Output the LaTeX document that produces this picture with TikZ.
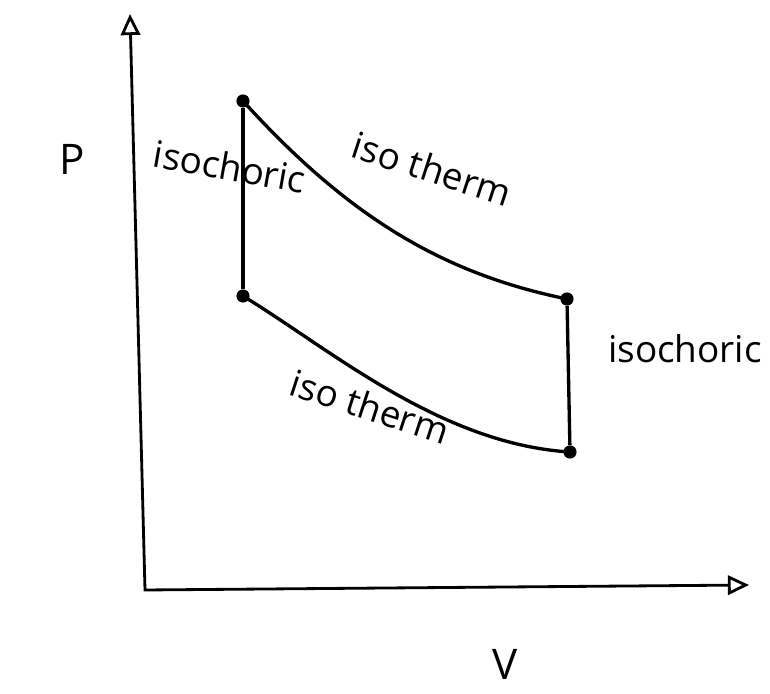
\documentclass[tikz,border=0pt]{standalone}
\usepackage{fontspec}
\setmainfont{Open Sans}
\usepackage{tikz}
\usetikzlibrary{arrows.meta}

\begin{document}
\begin{tikzpicture}[
  axis/.style={line width=1.6pt, {Triangle[open, length=12pt, width=11pt]}-{Triangle[open, length=12pt, width=11pt]}},
  path/.style={line width=1.9pt},
  pt/.style={circle, fill=black, inner sep=0pt, minimum size=7.5pt},
  lbl/.style={font=\fontsize{21}{23}\selectfont, inner sep=1pt}
]
\useasboundingbox (0,0) rectangle (15.4,13.88);

% axes
\coordinate (O) at (2.9,2.08);
\coordinate (ytop) at (2.6,13.6);
\coordinate (xend) at (14.98,2.18);
\draw[axis] (ytop) -- (O) -- (xend);
\node[lbl, font=\fontsize{24}{26}\selectfont] (plbl) at (1.45,10.7) {P};
\node[lbl, font=\fontsize{24}{26}\selectfont] (vlbl) at (10.1,0.6) {V};

% states
\node[pt] (A) at (4.86,11.86) {};
\node[pt] (B) at (4.86,7.96) {};
\node[pt] (C) at (11.34,7.9) {};
\node[pt] (D) at (11.4,4.84) {};

% cycle
\draw[path] (A) -- (B);
\draw[path] (C) -- (D);
\draw[path] (A.center) .. controls (7.0,9.5) and (8.9,8.4) .. (C.center);
\draw[path] (B.center) .. controls (6.6,6.9) and (8.8,5.0) .. (D.center);

% labels
\node[lbl, rotate=-10] (iso1) at (4.6,10.55) {isochoric};
\node[lbl, rotate=-18] (th1) at (8.65,10.5) {iso therm};
\node[lbl, rotate=-18] (th2) at (7.4,5.75) {iso therm};
\node[lbl] (iso2) at (13.7,6.9) {isochoric};
\end{tikzpicture}
\end{document}
